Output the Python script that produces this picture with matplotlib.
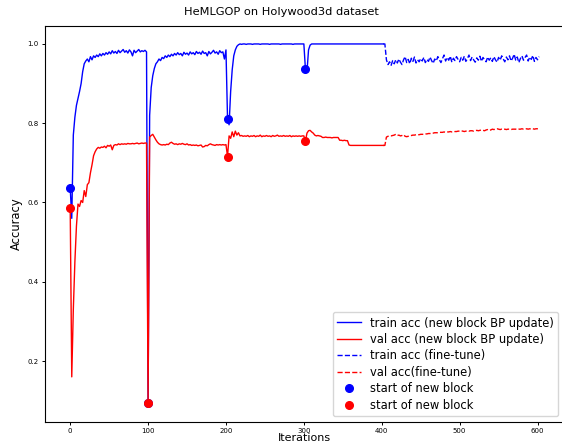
import matplotlib
matplotlib.use("Agg")
import matplotlib.pyplot as plt
import numpy as np

# iterations are logged every 2 steps
block_starts = [0, 100, 202, 302]
ft_start = 404

# training with new block BP update (4 blocks)
train_b1 = [0.637, 0.560, 0.770, 0.815, 0.845, 0.862, 0.880, 0.900, 0.930, 0.950,
            0.957, 0.962, 0.955, 0.968, 0.960, 0.970, 0.966, 0.972, 0.968, 0.975,
            0.970, 0.976, 0.972, 0.978, 0.974, 0.980, 0.975, 0.983, 0.977, 0.981,
            0.976, 0.984, 0.978, 0.982, 0.986, 0.979, 0.983, 0.977, 0.985, 0.980,
            0.970, 0.984, 0.978, 0.982, 0.986, 0.980, 0.983, 0.981, 0.984, 0.980]
val_b1 = [0.585, 0.160, 0.330, 0.450, 0.540, 0.596, 0.590, 0.605, 0.600, 0.630,
          0.615, 0.645, 0.650, 0.675, 0.695, 0.718, 0.728, 0.735, 0.739, 0.737,
          0.740, 0.739, 0.742, 0.738, 0.744, 0.742, 0.745, 0.733, 0.744, 0.746,
          0.745, 0.748, 0.746, 0.748, 0.747, 0.748, 0.747, 0.749, 0.748, 0.748,
          0.749, 0.748, 0.749, 0.750, 0.748, 0.749, 0.750, 0.749, 0.750, 0.750]

train_b2 = [0.095, 0.820, 0.890, 0.920, 0.938, 0.950, 0.955, 0.962, 0.958, 0.966,
            0.963, 0.970, 0.966, 0.972, 0.968, 0.974, 0.970, 0.976, 0.972, 0.978,
            0.973, 0.976, 0.970, 0.979, 0.974, 0.977, 0.972, 0.980, 0.975, 0.978,
            0.973, 0.981, 0.976, 0.979, 0.974, 0.982, 0.976, 0.978, 0.970, 0.981,
            0.975, 0.979, 0.984, 0.977, 0.980, 0.974, 0.983, 0.978, 0.980, 0.962,
            0.985]
val_b2 = [0.095, 0.765, 0.769, 0.772, 0.765, 0.758, 0.752, 0.748, 0.746, 0.745,
          0.746, 0.745, 0.747, 0.746, 0.750, 0.752, 0.749, 0.747, 0.748, 0.746,
          0.748, 0.747, 0.749, 0.747, 0.746, 0.748, 0.745, 0.746, 0.744, 0.745,
          0.744, 0.745, 0.743, 0.744, 0.745, 0.740, 0.741, 0.744, 0.743, 0.746,
          0.748, 0.746, 0.745, 0.744, 0.746, 0.745, 0.746, 0.745, 0.746, 0.745,
          0.746]

train_b3 = [0.811, 0.796, 0.880, 0.935, 0.970, 0.985, 0.994, 0.998, 1.000, 0.999,
            1.000, 1.000, 0.999, 1.000, 1.000, 1.000, 0.999, 1.000, 1.000, 1.000,
            1.000, 0.999, 1.000, 1.000, 1.000, 1.000, 1.000, 0.999, 1.000, 1.000,
            1.000, 1.000, 1.000, 1.000, 0.999, 1.000, 1.000, 1.000, 1.000, 1.000,
            1.000, 1.000, 0.999, 1.000, 1.000, 1.000, 1.000, 1.000, 1.000, 1.000]
val_b3 = [0.716, 0.768, 0.762, 0.778, 0.766, 0.780, 0.770, 0.776, 0.768, 0.769,
          0.767, 0.768, 0.767, 0.769, 0.766, 0.768, 0.767, 0.769, 0.766, 0.768,
          0.767, 0.770, 0.766, 0.768, 0.767, 0.769, 0.767, 0.768, 0.766, 0.769,
          0.767, 0.768, 0.770, 0.767, 0.768, 0.767, 0.769, 0.767, 0.768, 0.767,
          0.769, 0.766, 0.768, 0.767, 0.768, 0.767, 0.768, 0.767, 0.768, 0.768]

train_b4 = [0.937, 0.930, 0.985, 0.997, 1.000, 1.000, 1.000, 1.000, 1.000, 1.000,
            1.000, 1.000, 1.000, 1.000, 1.000, 1.000, 1.000, 1.000, 1.000, 1.000,
            1.000, 1.000, 1.000, 1.000, 1.000, 1.000, 1.000, 1.000, 1.000, 1.000,
            1.000, 1.000, 1.000, 1.000, 1.000, 1.000, 1.000, 1.000, 1.000, 1.000,
            1.000, 1.000, 1.000, 1.000, 1.000, 1.000, 1.000, 1.000, 1.000, 1.000,
            1.000]
val_b4 = [0.755, 0.775, 0.781, 0.782, 0.778, 0.775, 0.770, 0.768, 0.769, 0.768,
          0.767, 0.764, 0.764, 0.765, 0.764, 0.764, 0.764, 0.763, 0.764, 0.764,
          0.764, 0.764, 0.757, 0.757, 0.756, 0.757, 0.756, 0.756, 0.745, 0.744,
          0.744, 0.744, 0.744, 0.744, 0.744, 0.744, 0.744, 0.744, 0.744, 0.744,
          0.744, 0.744, 0.744, 0.744, 0.744, 0.744, 0.744, 0.744, 0.744, 0.744,
          0.744]

# fine-tune phase
train_ft = [1.000, 0.960, 0.948, 0.955, 0.946, 0.958, 0.950, 0.960, 0.952, 0.962,
            0.954, 0.948, 0.960, 0.968, 0.953, 0.961, 0.950, 0.964, 0.956, 0.967,
            0.952, 0.960, 0.955, 0.963, 0.957, 0.966, 0.953, 0.961, 0.956, 0.967,
            0.958, 0.951, 0.962, 0.957, 0.968, 0.960, 0.953, 0.963, 0.972, 0.957,
            0.966, 0.959, 0.969, 0.954, 0.964, 0.958, 0.968, 0.961, 0.955, 0.966,
            0.959, 0.969, 0.956, 0.963, 0.972, 0.958, 0.967, 0.960, 0.954, 0.965,
            0.959, 0.969, 0.956, 0.966, 0.960, 0.955, 0.967, 0.959, 0.965, 0.956,
            0.968, 0.960, 0.954, 0.966, 0.959, 0.970, 0.962, 0.955, 0.967, 0.960,
            0.970, 0.957, 0.964, 0.974, 0.959, 0.967, 0.953, 0.963, 0.970, 0.959,
            0.966, 0.972, 0.957, 0.967, 0.961, 0.971, 0.956, 0.966, 0.960, 0.968]
val_ft = [0.744, 0.765, 0.767, 0.768, 0.768, 0.769, 0.770, 0.772, 0.769, 0.770,
          0.768, 0.769, 0.771, 0.767, 0.766, 0.767, 0.768, 0.769, 0.770, 0.770,
          0.771, 0.771, 0.771, 0.772, 0.772, 0.772, 0.773, 0.773, 0.774, 0.774,
          0.775, 0.775, 0.776, 0.776, 0.776, 0.777, 0.777, 0.777, 0.778, 0.777,
          0.778, 0.778, 0.779, 0.778, 0.778, 0.779, 0.779, 0.780, 0.780, 0.781,
          0.780, 0.779, 0.780, 0.781, 0.780, 0.781, 0.781, 0.780, 0.781, 0.782,
          0.781, 0.782, 0.783, 0.782, 0.781, 0.783, 0.784, 0.782, 0.783, 0.785,
          0.784, 0.785, 0.786, 0.785, 0.784, 0.785, 0.784, 0.785, 0.784, 0.785,
          0.785, 0.784, 0.785, 0.785, 0.785, 0.784, 0.785, 0.785, 0.786, 0.785,
          0.785, 0.786, 0.785, 0.786, 0.785, 0.786, 0.785, 0.786, 0.786, 0.786]

train_bp = np.array(train_b1 + train_b2 + train_b3 + train_b4)
val_bp = np.array(val_b1 + val_b2 + val_b3 + val_b4)
it_bp = np.arange(0, ft_start, 2)
it_ft = np.arange(ft_start, ft_start + 2 * len(train_ft), 2)

idx = [s // 2 for s in block_starts]

fig = plt.figure(figsize=(5.62, 4.47), dpi=100)
ax = fig.add_axes([44.5 / 562, 24.8 / 447, 519.5 / 562, 396.2 / 447])

ax.plot(it_bp, train_bp, color='b', lw=1.0, label='train acc (new block BP update)')
ax.plot(it_bp, val_bp, color='r', lw=1.0, label='val acc (new block BP update)')
ax.plot(np.r_[it_bp[-1], it_ft], np.r_[train_bp[-1], train_ft], '--', color='b', lw=1.0,
        label='train acc (fine-tune)')
ax.plot(np.r_[it_bp[-1], it_ft], np.r_[val_bp[-1], val_ft], '--', color='r', lw=1.0,
        label='val acc(fine-tune)')
ax.plot(it_bp[idx], train_bp[idx], 'o', color='b', ms=5.5, ls='none', label='start of new block')
ax.plot(it_bp[idx], val_bp[idx], 'o', color='r', ms=5.5, ls='none', label='start of new block')

ax.set_xlim(-33, 634)
ax.set_ylim(0.0456, 1.0453)
ax.set_xticks([0, 100, 200, 300, 400, 500, 600])
ax.set_yticks([0.2, 0.4, 0.6, 0.8, 1.0])
ax.tick_params(labelsize=5, length=2.5, width=0.7, pad=1.8)
ax.set_xlabel('Iterations', fontsize=8, labelpad=-0.5)
ax.set_ylabel('Accuracy', fontsize=8.3, labelpad=3)
fig.text(0.5, 1 - 12 / 447, 'HeMLGOP on Holywood3d dataset', fontsize=8.2,
         ha='center', va='center')

ax.legend(loc='lower right', fontsize=8.3, labelspacing=0.3)

fig.savefig('out.png', dpi=100)
